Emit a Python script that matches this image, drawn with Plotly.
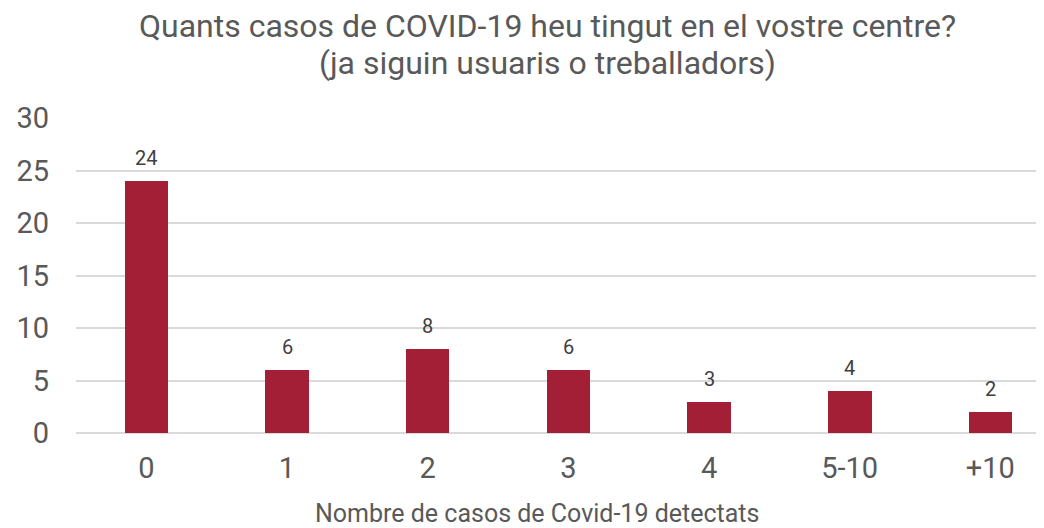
import plotly.graph_objects as go

categories = ["0", "1", "2", "3", "4", "5-10", "+10"]
values = [24, 6, 8, 6, 3, 4, 2]
y_ticks = [0, 5, 10, 15, 20, 25, 30]

title_line1 = "Quants casos de COVID-19 heu tingut en el vostre centre?"
title_line2 = "(ja siguin usuaris o treballadors)"
x_title = "Nombre de casos de Covid-19 detectats"

GREY = "#595959"
xs = list(range(len(categories)))

fig = go.Figure(
    go.Bar(
        x=xs,
        y=values,
        width=0.31,
        marker=dict(color="#A21F35", line=dict(width=0)),
        hoverinfo="x+y",
    )
)

annotations = []
for xi, v in zip(xs, values):
    annotations.append(dict(
        x=xi, y=v, xref="x", yref="y", text=str(v), showarrow=False,
        yanchor="bottom", yshift=9,
        font=dict(family="Roboto", size=20, color="#404040"),
    ))

annotations += [
    dict(text=title_line1, x=0.4826, y=1.2920, xref="paper", yref="paper",
         xanchor="center", yanchor="middle", showarrow=False,
         font=dict(family="Roboto", size=32, color=GREY)),
    dict(text=title_line2, x=0.4826, y=1.1746, xref="paper", yref="paper",
         xanchor="center", yanchor="middle", showarrow=False,
         font=dict(family="Roboto", size=32, color=GREY)),
    dict(text=x_title, x=0.4728, y=-0.254, xref="paper", yref="paper",
         xanchor="center", yanchor="middle", showarrow=False,
         font=dict(family="Roboto", size=25, color=GREY)),
]

fig.update_layout(
    width=1044,
    height=528,
    margin=dict(l=68, r=0, t=110, b=103, autoexpand=False),
    paper_bgcolor="white",
    plot_bgcolor="white",
    font=dict(family="Roboto", color=GREY),
    showlegend=False,
    bargap=0,
    annotations=annotations,
)

fig.update_xaxes(
    tickmode="array",
    tickvals=xs,
    ticktext=categories,
    range=[-0.5, 6.438],
    showgrid=False,
    zeroline=False,
    showline=False,
    ticks="",
    ticklabelstandoff=15,
    tickfont=dict(family="Roboto", size=29, color=GREY),
)

fig.update_yaxes(
    range=[0, 30],
    tickvals=y_ticks,
    showgrid=True,
    gridcolor="#D9D9D9",
    gridwidth=1.5,
    zeroline=True,
    zerolinecolor="#D9D9D9",
    zerolinewidth=1.5,
    showline=False,
    ticks="",
    ticklabelstandoff=26,
    tickfont=dict(family="Roboto", size=29, color=GREY),
)

fig.write_html("out.html")
